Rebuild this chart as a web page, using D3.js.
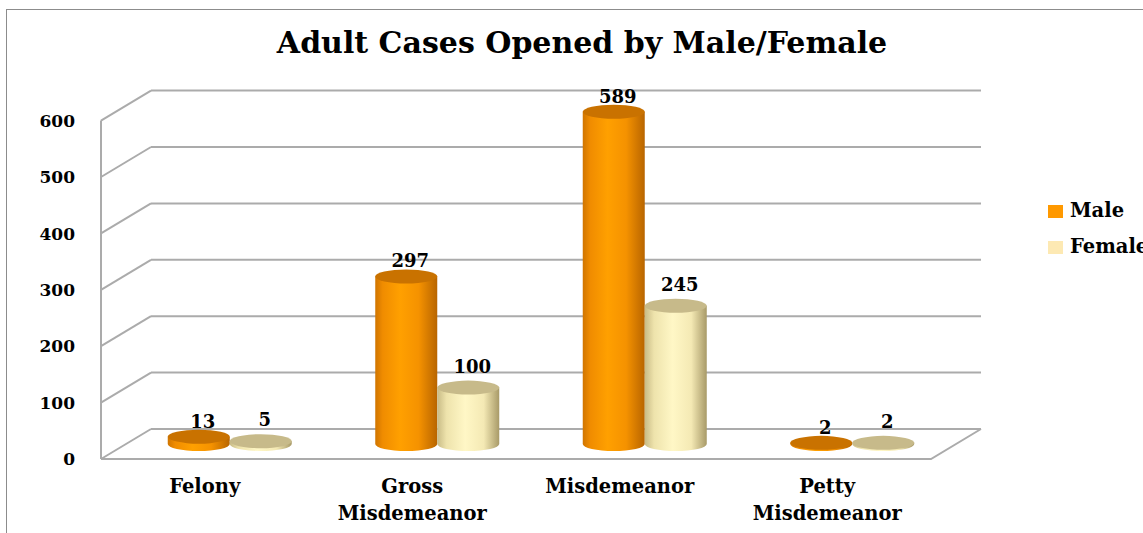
<!DOCTYPE html>
<html>
<head>
<meta charset="utf-8">
<script src="https://cdn.jsdelivr.net/npm/d3@7"></script>
<style>
  body { margin: 0; background: #fff; }
  text { font-family: 'DejaVu Serif', serif; font-weight: bold; fill: #000; }
</style>
</head>
<body>
<svg id="chart" width="1143" height="533"></svg>
<script>
const categories = ['Felony', 'Gross Misdemeanor', 'Misdemeanor', 'Petty Misdemeanor']
const categoryLines = [['Felony'], ['Gross', 'Misdemeanor'], ['Misdemeanor'], ['Petty', 'Misdemeanor']]
const male = [13, 297, 589, 2]
const female = [5, 100, 245, 2]
const seriesNames = ['Male', 'Female']
const yTicks = [0, 100, 200, 300, 400, 500, 600]

const svg = d3.select('#chart')

// depth offset of the 3d box
const depthX = 50
const depthY = -30
const left = 101
const right = 931

const x = d3.scaleBand().domain(categories).range([left, right])
const y = d3.scaleLinear().domain([0, 600]).range([459, 120.6])

// outer frame (runs off the right and bottom)
svg.append('rect')
  .attr('x', 6.5).attr('y', 9.5)
  .attr('width', 1200).attr('height', 600)
  .attr('fill', 'none').attr('stroke', '#8c8c8c').attr('stroke-width', 1)

svg.append('text')
  .attr('x', 582).attr('y', 53)
  .attr('text-anchor', 'middle')
  .style('font-size', '30px')
  .text('Adult Cases Opened by Male/Female')

const grid = svg.append('g')
  .attr('stroke', '#ababab').attr('stroke-width', 2).attr('fill', 'none')

// back wall gridlines + side wall diagonals
yTicks.forEach(v => {
  grid.append('line')
    .attr('x1', left + depthX).attr('x2', right + depthX)
    .attr('y1', y(v) + depthY).attr('y2', y(v) + depthY)
  grid.append('line')
    .attr('x1', left).attr('x2', left + depthX)
    .attr('y1', y(v)).attr('y2', y(v) + depthY)
})
// front vertical edge of side wall
grid.append('line')
  .attr('x1', left).attr('x2', left)
  .attr('y1', y(0)).attr('y2', y(600))
// floor front + right edge
grid.append('path')
  .attr('d', `M${left},${y(0)}L${right},${y(0)}L${right + depthX},${y(0) + depthY}`)

// y tick labels
svg.append('g')
  .selectAll('text')
  .data(yTicks)
  .join('text')
  .attr('x', 75)
  .attr('y', d => y(d))
  .attr('dy', '0.36em')
  .attr('text-anchor', 'end')
  .style('font-size', '17px')
  .text(d => d)

// gradients
const defs = svg.append('defs')
const grads = [
  { id: 'gMale', stops: [[0, '#d07500'], [0.12, '#f08c00'], [0.4, '#ffa000'], [0.7, '#f59200'], [1, '#b86500']] },
  { id: 'gFemale', stops: [[0, '#c8bb86'], [0.15, '#eee3ac'], [0.45, '#fff7c6'], [0.75, '#f4e9b4'], [1, '#a89a68']] },
]
grads.forEach(g => {
  defs.append('linearGradient')
    .attr('id', g.id)
    .attr('x1', 0).attr('x2', 1).attr('y1', 0).attr('y2', 0)
    .selectAll('stop')
    .data(g.stops)
    .join('stop')
    .attr('offset', d => d[0])
    .attr('stop-color', d => d[1])
})
const topColors = ['#c97200', '#c7ba8a']
const legendColors = ['#ff9900', '#fde9b3']

// cylinders, placed at mid depth
const rx = 31
const ry = 7
const midX = depthX / 2
const midY = depthY / 2
const bars = svg.append('g')
const labels = svg.append('g')

;[male, female].forEach((values, s) => {
  values.forEach((v, i) => {
    const cx = x(categories[i]) + x.bandwidth() / 2 + midX + (s === 0 ? -rx : rx)
    const yb = y(0) + midY
    const yt = y(v) + midY
    bars.append('path')
      .attr('d', `M${cx - rx},${yt}L${cx - rx},${yb}A${rx},${ry} 0 0 0 ${cx + rx},${yb}L${cx + rx},${yt}Z`)
      .attr('fill', `url(#${grads[s].id})`)
    bars.append('ellipse')
      .attr('cx', cx).attr('cy', yt)
      .attr('rx', rx).attr('ry', ry)
      .attr('fill', topColors[s])
    labels.append('text')
      .attr('x', cx + 4)
      .attr('y', yt - ry - (s === 0 ? 2 : 8))
      .attr('text-anchor', 'middle')
      .style('font-size', '18px')
      .text(v)
  })
})

// category labels
svg.append('g')
  .selectAll('text')
  .data(categories)
  .join('text')
  .attr('x', d => x(d) + x.bandwidth() / 2)
  .attr('y', 493)
  .attr('text-anchor', 'middle')
  .style('font-size', '19.5px')
  .each(function (d, i) {
    d3.select(this).selectAll('tspan')
      .data(categoryLines[i])
      .join('tspan')
      .attr('x', x(d) + x.bandwidth() / 2)
      .attr('dy', (t, j) => j === 0 ? 0 : 27)
      .text(t => t)
  })

// legend
const legend = svg.append('g')
seriesNames.forEach((name, i) => {
  legend.append('rect')
    .attr('x', 1048).attr('y', 205 + i * 36)
    .attr('width', 15).attr('height', 13)
    .attr('fill', legendColors[i])
  legend.append('text')
    .attr('x', 1070).attr('y', 217 + i * 36)
    .style('font-size', '19.5px')
    .text(name)
})
</script>
</body>
</html>
